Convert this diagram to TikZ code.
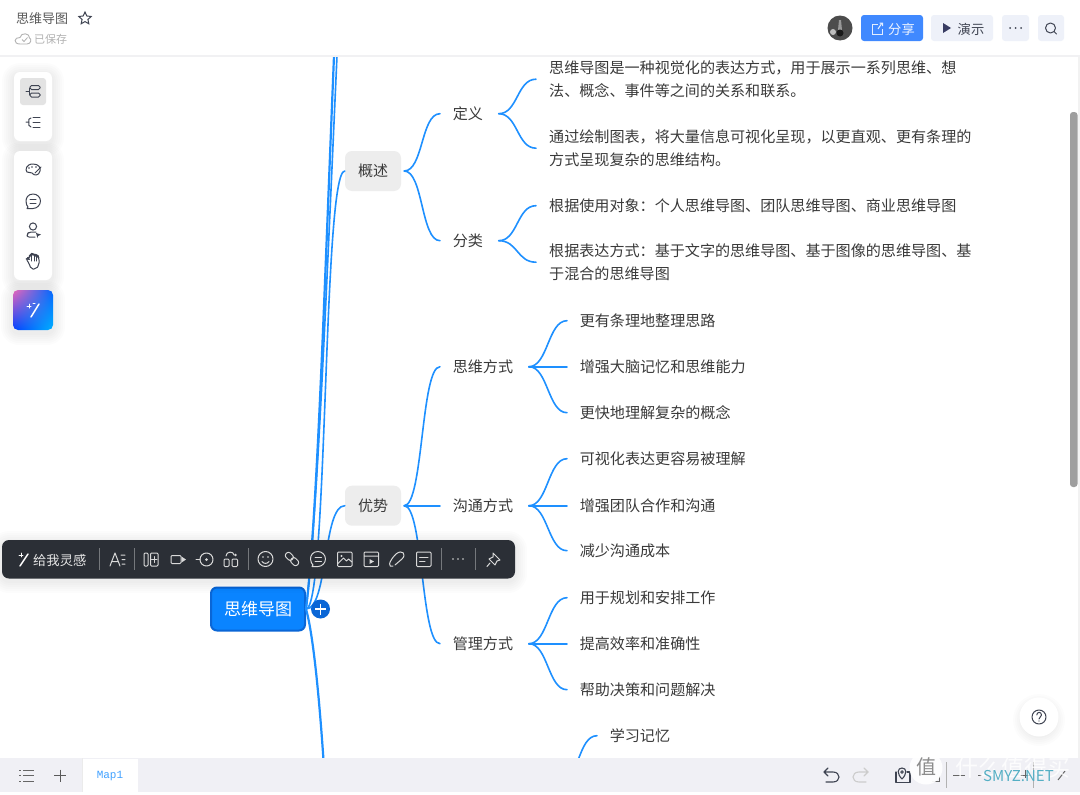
\documentclass[tikz,border=0pt]{standalone}
\usepackage{fontspec}
\setmainfont{Noto Sans CJK SC}
\newfontfamily\monofnt{Liberation Mono}
\usetikzlibrary{shapes.geometric,shadings}
\definecolor{linkc}{HTML}{1E90FF}
\definecolor{txt}{HTML}{3A3A3A}
\definecolor{barbg}{HTML}{F0F0F5}
\definecolor{toolbg}{HTML}{2B2F36}
\definecolor{icond}{HTML}{3F4452}
\definecolor{btnbg}{HTML}{EEF1F9}
\definecolor{lineg}{HTML}{F1F1F3}
\definecolor{linkblue}{HTML}{0A84FF}
\definecolor{rootedge}{HTML}{0A66D6}
\definecolor{sharebg}{HTML}{4089FF}
\definecolor{tbicon}{HTML}{D9D9D9}
\definecolor{wmteal}{HTML}{55AFC4}
\newcommand{\softshadow}[5]{% x1 y1 x2 y2 radius
  \foreach \gr in {12,10,8,6,4,2}{
    \fill[black,opacity=0.012,rounded corners=#5pt+\gr pt]
      (#1-\gr,#2-\gr+3) rectangle (#3+\gr,#4+\gr+3);}
}
\tikzset{
  link/.style={draw=linkc,line width=1.6pt,line cap=round},
  mainlink/.style={draw=linkc,line width=2.2pt},
  leaf/.style={anchor=west,inner xsep=13pt,inner ysep=2pt,yshift=-0.7pt,align=left,text=txt,font=\fontsize{15.08}{23}\selectfont},
  sub/.style={anchor=west,inner xsep=12.6pt,inner ysep=2pt,yshift=-0.7pt,text=txt,font=\fontsize{15.08}{20}\selectfont},
  branchbox/.style={fill=black!7,rounded corners=7pt,minimum width=56pt,minimum height=40pt,inner sep=0pt,text=txt,font=\fontsize{15}{20}\selectfont},
  rootbox/.style={fill=linkblue,draw=rootedge,line width=2pt,rounded corners=6pt,minimum width=94pt,minimum height=43pt,inner sep=0pt,text=white,font=\fontsize{17}{20}\selectfont},
  panel/.style={fill=white,rounded corners=6pt},
  ic/.style={draw=icond,line width=1pt,line cap=round,line join=round},
  tb/.style={draw=tbicon,line width=1pt,line cap=round,line join=round},
  sep/.style={draw=white!35!toolbg,line width=1pt},
  uitext/.style={inner sep=0pt,font=\fontsize{13.3}{16}\selectfont},
}
\newcommand{\conn}[2]{\draw[link] ([xshift=3pt]#1.east) .. controls +(19,0) and +(-19,0) .. (#2.west);}
\begin{document}
\begin{tikzpicture}[x=1pt,y=-1pt]
\useasboundingbox (0,0) rectangle (1080,795);
\fill[white] (0,0) rectangle (1080,795);

% ---- mind map ----
\coordinate (topA) at (334,56);
\coordinate (topB) at (337,56);
\coordinate (downE) at (323.5,760);
\coordinate (apply) at (560,782);

\node[rootbox] (root) at (258,609) {思维导图};
\node[branchbox] (gs) at (373,171) {概述};
\node[branchbox] (ys) at (373,505.7) {优势};

\node[sub] (dy) at (440,113) {定义};
\node[sub] (fl) at (440,240) {分类};
\node[sub] (sw) at (440,366) {思维方式};
\node[sub] (gt) at (440,505) {沟通方式};
\node[sub] (gl) at (440,643) {管理方式};

\node[leaf] (a1) at (536,78.5) {思维导图是一种视觉化的表达方式，用于展示一系列思维、想\\法、概念、事件等之间的关系和联系。};
\node[leaf] (a2) at (536,147.5) {通过绘制图表，将大量信息可视化呈现，以更直观、更有条理的\\方式呈现复杂的思维结构。};
\node[leaf] (b1) at (536,205) {根据使用对象：个人思维导图、团队思维导图、商业思维导图};
\node[leaf] (b2) at (536,261.5) {根据表达方式：基于文字的思维导图、基于图像的思维导图、基\\于混合的思维导图};

\node[sub] (c1) at (567,320) {更有条理地整理思路};
\node[sub] (c2) at (567,366) {增强大脑记忆和思维能力};
\node[sub] (c3) at (567,412) {更快地理解复杂的概念};
\node[sub] (d1) at (567,458) {可视化表达更容易被理解};
\node[sub] (d2) at (567,505) {增强团队合作和沟通};
\node[sub] (d3) at (567,550) {减少沟通成本};
\node[sub] (e1) at (567,597) {用于规划和安排工作};
\node[sub] (e2) at (567,643) {提高效率和准确性};
\node[sub] (e3) at (567,689) {帮助决策和问题解决};
\node[sub] (f1) at (597,735) {学习记忆};

\draw[mainlink] (root.east) .. controls (317,520) and (324,300) .. (topA);
\draw[link] (root.east) .. controls (317,520) and (326,300) .. (topB);
\draw[link] (root.east) .. controls +(22,0) and +(-22,0) .. (gs.west);
\draw[link] (root.east) .. controls +(22,0) and +(-22,0) .. (ys.west);
\draw[mainlink] (root.east) .. controls (312,630) and (318,680) .. (downE);
\conn{gs}{dy}\conn{gs}{fl}\conn{ys}{sw}\conn{ys}{gt}\conn{ys}{gl}
\conn{dy}{a1}\conn{dy}{a2}\conn{fl}{b1}\conn{fl}{b2}
\conn{sw}{c1}\conn{sw}{c2}\conn{sw}{c3}
\conn{gt}{d1}\conn{gt}{d2}\conn{gt}{d3}
\conn{gl}{e1}\conn{gl}{e2}\conn{gl}{e3}
\draw[link] (apply) .. controls +(19,0) and +(-19,0) .. (f1.west);

% plus button
\node[circle,fill=rootedge,minimum size=19pt,inner sep=0pt] (plus) at (320.5,609) {};
\draw[white,line width=1.5pt] (315,609) -- (326,609) (320.5,603.5) -- (320.5,614.5);

% ---- header ----
\fill[white] (0,0) rectangle (1080,55);
\fill[lineg] (0,55) rectangle (1080,57);
\node[uitext,anchor=west,text=black!65,font=\fontsize{13}{16}\selectfont] (title) at (16,19) {思维导图};
\node[star,star points=5,star point ratio=2.1,draw=icond,line width=1pt,minimum size=13pt,inner sep=0pt] (fav) at (85,18.5) {};
\node[uitext,anchor=west,text=black!30,font=\fontsize{11}{14}\selectfont] (saved) at (34,39) {已保存};
\draw[black!30,line width=.9pt] (20,44) .. controls (13,44) and (14,37) .. (20,37.5) .. controls (21,32) and (30,33) .. (29.5,38) .. controls (32,39) and (31,44) .. (27,44) -- cycle;
\draw[black!30,line width=.8pt] (22,39.5) -- (24,41.5) -- (27.5,37.5);

\fill[black!70] (840,28) circle (12.5pt);
\fill[black!40] (839,20) -- (841,20) -- (842,30) -- (838,30) -- cycle;
\fill[black!25] (833,32) circle (3pt);
\fill[black!90] (840,33) circle (3.5pt);

\fill[sharebg,rounded corners=3pt] (861,15) rectangle (923,41);
\draw[white!85!sharebg,line width=1pt] (878,24) -- (872,24) -- (872,34) -- (882.5,34) -- (882.5,29);
\draw[white!85!sharebg,line width=1pt] (878,29) -- (882,23) (879.5,23) -- (882.5,23) -- (882.5,26);
\node[uitext,text=white!90!sharebg] (share) at (901.5,29) {分享};
\fill[btnbg,rounded corners=3pt] (931,15) rectangle (993,41);
\fill[icond!90!blue] (943,23) -- (951,28) -- (943,33) -- cycle;
\node[uitext,text=icond] (demo) at (971,29) {演示};
\fill[btnbg,rounded corners=3pt] (1002,15) rectangle (1029,41);
\foreach \xx in {1010,1015.5,1021} \fill[icond] (\xx,28) circle (1pt);
\fill[btnbg,rounded corners=3pt] (1038,15) rectangle (1064,41);
\draw[ic] (1050.5,28) circle (5pt) (1054.5,32) -- (1056.5,34);

% ---- left panels ----
\softshadow{14}{72}{52}{141}{6}
\softshadow{14}{151}{52}{280}{6}
\softshadow{13}{290}{53}{330}{6}
\fill[panel] (14,72) rectangle (52,141);
\fill[panel] (14,151) rectangle (52,280);
\fill[black!11,rounded corners=3pt] (20,78) rectangle (46,105);
% mind-map icon
\draw[ic] (26,91.5) -- (29,91.5) (29,88) -- (29,95);
\draw[ic,rounded corners=1.5pt] (30,85.5) rectangle (40,89.5) (30,93) rectangle (40,97);
% outline icon
\draw[ic] (26,122) -- (29,122) (31,118) .. controls (28,118) and (29,120) .. (29,122) .. controls (29,124) and (28,127) .. (31,127);
\draw[ic] (33,117) -- (40,117) (33,122) -- (40,122) (33,127) -- (40,127);
% palette
\draw[ic] (33,164) .. controls (26,164) and (25,170) .. (27,172) .. controls (29,174) and (30,171) .. (32,173) .. controls (34,176) and (39,176) .. (40,171) .. controls (41,168) and (39,164) .. (33,164) -- cycle;
\fill[icond] (29,168) circle (.9pt) (32,167) circle (.9pt) (36,167) circle (.9pt);
\draw[ic] (35,173) -- (41,167);
% comment
\draw[ic] (33,194) .. controls (28,194) and (26,198) .. (26,201) .. controls (26,204) and (27,206) .. (28,207) -- (27,208.5) -- (33,208.5) .. controls (37,208.5) and (40.5,205) .. (40.5,201) .. controls (40.5,197) and (37,194) .. (33,194) -- cycle;
\draw[ic] (30,199.5) -- (36,199.5) (30,203) -- (36,203);
% user
\draw[ic] (33,226.5) circle (3.6pt);
\draw[ic,rounded corners=2pt] (36,232) -- (29,232) -- (27,234) -- (27,237) -- (35,237);
\fill[icond] (36,233) -- (41,234.5) -- (38,236) -- (37.5,238) -- cycle;
% hand
\draw[ic,rounded corners=2pt] (29,263) -- (26,259) -- (28,258) -- (29,259) -- (29,256) -- (31,255) -- (31.5,254) -- (33,254) -- (34,255) -- (36,255) -- (36.5,256) -- (38,256) -- (39,258) -- (39,265) -- (36,269) -- (31,269) -- cycle;
\draw[ic] (31.5,255) -- (31.5,261) (34,255) -- (34,261) (36.5,256) -- (36.5,261);
% magic button
\shade[rounded corners=5pt,upper left=purple!60!magenta!60!white,upper right=blue!60!cyan,lower left=blue!75!cyan,lower right=cyan!70!blue] (13,290) rectangle (53,330);
\draw[white,line width=1.5pt,line cap=round] (31,317) -- (39,304);
\draw[white,line width=1pt,line cap=round] (27,306) -- (31,306) (29,304) -- (29,308) (33,303) -- (35,303);

% ---- toolbar ----
\softshadow{2}{540}{515}{578}{7}
\fill[toolbg,rounded corners=7pt] (2,540) rectangle (515,578.5);
\draw[white,line width=1.4pt,line cap=round] (20,566) -- (28,554);
\draw[white,line width=.9pt,line cap=round] (19,555) -- (23,555) (21,553) -- (21,557);
\node[uitext,text=white!90!black,anchor=west] (ins) at (33,560) {给我灵感};
\draw[sep] (99.5,548) -- (99.5,570) (134,548) -- (134,570) (248,548) -- (248,570) (441,548) -- (441,570) (475.5,548) -- (475.5,570);
% A=
\draw[tb] (110,566) -- (115,553) -- (120,566) (112,561.5) -- (118,561.5) (121,555) -- (125,555) (122,559.5) -- (125,559.5) (122,564) -- (125,564);
% subtopic
\draw[tb,rounded corners=1pt] (144,553) rectangle (148,566) (150.5,553) rectangle (158,566);
\draw[tb] (151.5,559.5) -- (157,559.5) (154.2,556.5) -- (154.2,562.5);
% arrow box
\draw[tb,rounded corners=1pt] (171,555.5) rectangle (181,563.5);
\fill[tbicon] (181.5,556.5) -- (186,559.5) -- (181.5,562.5) -- cycle;
% circle target
\draw[tb] (196,559.5) -- (200,559.5);
\draw[tb] (206.5,559.5) circle (6.5pt);
\fill[tbicon] (206.5,559.5) circle (1.5pt);
% structure
\draw[tb,rounded corners=1pt] (224,559) rectangle (229,566.5) (232,559) rectangle (237.5,566.5);
\draw[tb] (226,556) .. controls (226,551) and (234,551) .. (234,555);
\fill[tbicon] (235.5,555) circle (1.3pt);
% smile
\draw[tb] (265.5,559) circle (7.5pt);
\fill[tbicon] (263,557) circle (.9pt) (268,557) circle (.9pt);
\draw[tb] (262,561.5) .. controls (263.5,564) and (267.5,564) .. (269,561.5);
% link
\draw[tb,rotate around={-45:(292,559)},rounded corners=2.5pt] (284,556) rectangle (292.5,562) (291.5,556) rectangle (300,562);
% comment
\draw[tb] (318,551.5) .. controls (313,551.5) and (310.5,555) .. (310.5,559) .. controls (310.5,562) and (312,564) .. (313,565) -- (312,566.5) -- (318,566.5) .. controls (322,566.5) and (325.5,563) .. (325.5,559) .. controls (325.5,555) and (322,551.5) .. (318,551.5) -- cycle;
\draw[tb] (315,557.5) -- (321.5,557.5) (315,561) -- (321.5,561);
% picture
\draw[tb,rounded corners=1pt] (337.5,552) rectangle (352,566.5);
\draw[tb] (337.5,564) -- (343.5,558) -- (346.5,561) -- (348.5,559) -- (352,562);
\fill[tbicon] (341.5,556) circle (1.2pt);
% video
\draw[tb,rounded corners=1pt] (364,552) rectangle (378.5,566.5) (364,556) -- (378.5,556);
\fill[tbicon] (369.5,559) -- (374,561.5) -- (369.5,564) -- cycle;
% clip
\draw[tb] (393,566) .. controls (388,568) and (388,562) .. (396,554) .. controls (402,549) and (407,554) .. (402,559) -- (395,565);
% note
\draw[tb,rounded corners=1pt] (416.5,552) rectangle (431,566.5);
\draw[tb] (419.5,557) -- (428,557) (419.5,561) -- (425,561);
\foreach \xx in {453,458,463} \fill[tbicon] (\xx,559) circle (.8pt);
% pin
\draw[tb] (493,553) -- (500,560) -- (497,561) -- (495,565) -- (489,559) -- (493,557) -- cycle (490,563) -- (487,566.5);

% ---- scrollbar ----
\fill[black!5] (1078,57) rectangle (1080,758);
\fill[black!38,rounded corners=3pt] (1070,112) rectangle (1077.5,487);

% ---- help ----
\softshadow{1025}{703}{1053}{731}{14}
\fill[white] (1039,717) circle (19.5pt);
\draw[ic] (1039,717) circle (7pt);
\draw[ic] (1036.8,715) .. controls (1036.8,711.5) and (1041.5,711.5) .. (1041.5,715) .. controls (1041.5,717) and (1039,717) .. (1039,719);
\fill[icond] (1039,721) circle (.7pt);

% ---- bottom bar ----
\fill[barbg] (0,758) rectangle (1080,791.5);
\fill[white] (0,791.5) rectangle (1080,795);
\fill[white] (83,759) rectangle (138,791.5);
\fill[black!8] (81.5,758) rectangle (82.5,791.5);
\node[font=\monofnt\fontsize{11}{12}\selectfont,text=linkc!85!white,inner sep=0pt] (map) at (110,776) {Map1};
\draw[black!60,line width=1pt] (19,770) -- (21,770) (19,775.5) -- (21,775.5) (19,781) -- (21,781) (23,770) -- (34,770) (23,775.5) -- (34,775.5) (23,781) -- (34,781);
\draw[black!65,line width=1pt] (54,775.5) -- (66,775.5) (60,769.5) -- (60,781.5);

% undo redo
\draw[ic,line width=1.1pt] (828,768) -- (824,772) -- (828,776) (824,772) -- (833,772) .. controls (841,772) and (841,782) .. (833,782) -- (826,782);
\draw[black!20,line width=1.1pt,line cap=round] (864,768) -- (868,772) -- (864,776) (868,772) -- (859,772) .. controls (851,772) and (851,782) .. (859,782) -- (866,782);
% locate icon
\draw[ic,line width=1.1pt] (896,772) -- (896,782.5) -- (910,782.5) -- (910,772) -- (907,772);
\draw[ic,line width=1.1pt] (902,779) .. controls (897,774) and (897,768) .. (902,768) .. controls (907,768) and (907,774) .. (902,779);
\draw[ic] (902,772) circle (1.3pt);
\draw[black!60,line width=1pt] (932,781) -- (939,781) -- (939,776);
\draw[black!30,line width=.8pt] (946,762) -- (946,788);
\draw[black!60,line width=1pt] (953,775) -- (965,775);
\draw[black!30,line width=.8pt] (1033,762) -- (1033,788);
\draw[black!60,line width=1pt] (978,775) -- (982,775) (1020,775) -- (1030,775) (1025,770) -- (1025,778);
\draw[black!60,line width=1pt] (1058,780) -- (1065,771);

% watermark
\fill[white,opacity=.93] (926,768) circle (16.5pt);
\node[inner sep=0pt,font=\fontsize{20}{22}\selectfont,text=black!45] (zhi) at (926,767) {值};
\node[inner sep=0pt,anchor=west,font=\fontsize{23}{26}\selectfont,text=white,opacity=.8] (smzdm) at (955,768) {什么值得买};
\node[inner sep=0pt,anchor=west,font=\fontsize{15}{17}\selectfont,text=wmteal] (wm) at (983,776) {SMYZ.NET};
\end{tikzpicture}
\end{document}
